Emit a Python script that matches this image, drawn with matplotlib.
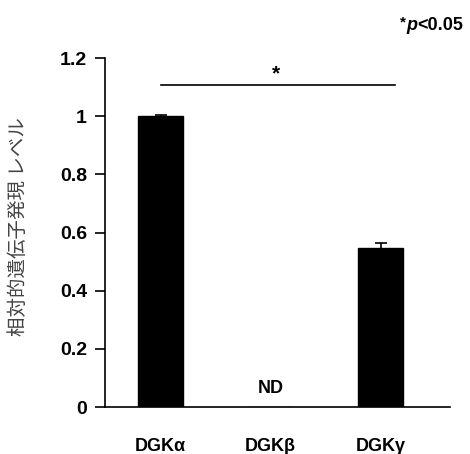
import matplotlib
matplotlib.use('Agg')
import matplotlib.pyplot as plt
import numpy as np

plt.rcParams['font.family'] = ['Liberation Sans', 'DejaVu Sans']

categories = ['DGKα', 'DGKβ', 'DGKγ']
values = [1.0, 0.0, 0.548]
errors = [0.003, 0.0, 0.017]
detected = [True, False, True]
y_ticks = [0, 0.2, 0.4, 0.6, 0.8, 1.0, 1.2]
y_tick_labels = ['0', '0.2', '0.4', '0.6', '0.8', '1', '1.2']
ylabel = '相対的遺伝子発現 レベル'
sig_pair = (0, 2)
sig_height = 1.107

W, H = 470, 454
fig = plt.figure(figsize=(W / 100, H / 100), dpi=100)
ax = fig.add_axes([0.2234, 0.1035, 0.7336, 0.7687])

x = np.arange(len(categories))
det = np.array(detected)
ax.bar(x, values, width=0.41, color='black', edgecolor='black')
ax.errorbar(x[det], np.array(values)[det], yerr=np.array(errors)[det],
            fmt='none', ecolor='black', elinewidth=1.2, capsize=4, capthick=1.2)

for i, d in enumerate(detected):
    if not d:
        ax.text(x[i], 0.035, 'ND', ha='center', va='bottom',
                fontsize=13, fontweight='bold')

# significance bar
ax.plot([x[sig_pair[0]], x[sig_pair[1]] + 0.13], [sig_height, sig_height],
        color='black', lw=1.2, clip_on=False)
ax.text((x[sig_pair[0]] + x[sig_pair[1]]) / 2 + 0.05, sig_height + 0.005, '*',
        ha='center', va='bottom', fontsize=15, fontweight='bold')

ax.set_xlim(-0.505, 2.63)
ax.set_ylim(0, 1.2)
ax.set_yticks(y_ticks)
ax.set_yticklabels(y_tick_labels, fontsize=14, fontweight='bold')
ax.set_xticks(x)
ax.set_xticklabels(categories, fontsize=13, fontweight='bold')
ax.tick_params(axis='x', length=0, pad=22)
ax.tick_params(axis='y', direction='out', length=7, width=1.2, pad=6)

for s in ['top', 'right']:
    ax.spines[s].set_visible(False)
for s in ['left', 'bottom']:
    ax.spines[s].set_linewidth(1.2)

fig.text(18 / W, 1 - 227 / H, ylabel, rotation=90, ha='center', va='center',
         fontsize=14, color='#444444', family=['Noto Sans CJK JP', 'DejaVu Sans'])

# p-value note, top right
base = 1 - 30 / H
fig.text(463 / W, base, '<0.05', ha='right', va='baseline',
         fontsize=13, fontweight='bold')
fig.text(417 / W, base, 'p', ha='right', va='baseline',
         fontsize=13, fontweight='bold', fontstyle='italic')
fig.text(406 / W, 1 - 26 / H, '*', ha='right', va='baseline',
         fontsize=11, fontweight='bold')

fig.savefig('out.png', dpi=100)
